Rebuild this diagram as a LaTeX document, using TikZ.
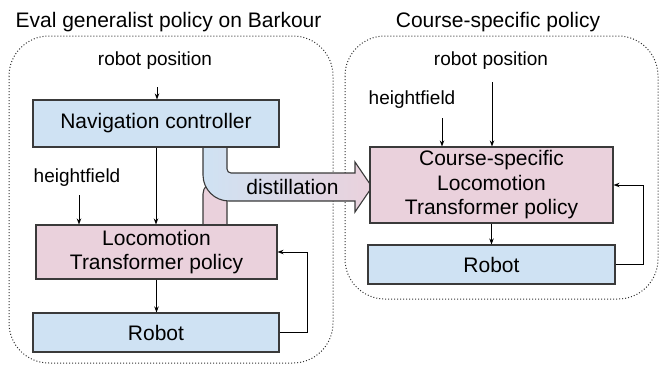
\documentclass[tikz,border=0pt]{standalone}
\usepackage{fontspec}
\setmainfont{Liberation Sans}
\usetikzlibrary{arrows.meta,calc}
\definecolor{boxblue}{HTML}{CFE2F3}
\definecolor{boxpink}{HTML}{EAD1DC}
\definecolor{edge}{HTML}{3A3A3A}
\definecolor{dotc}{HTML}{333333}
\tikzset{
  big/.style={font=\fontsize{21}{24.5}\selectfont},
  small/.style={font=\fontsize{19}{22}\selectfont},
  box/.style={draw=edge, line width=1.1pt, rectangle, inner sep=0pt, align=center, big},
  bluebox/.style={box, fill=boxblue},
  pinkbox/.style={box, fill=boxpink},
  flow/.style={draw=black, line width=0.8pt, -{Stealth[length=6pt,width=4.5pt]}},
  container/.style={draw=dotc, line width=1pt, dash pattern=on 1pt off 2pt, rounded corners=40pt},
}
\begin{document}
\begin{tikzpicture}[x=1pt,y=-1pt]
\useasboundingbox (0,0) rectangle (659,373);
% containers
\draw[container] (9,36) rectangle (333,363);
\draw[container] (345,36) rectangle (658,299);
\node[big] (t1) at (168.5,22) {Eval generalist policy on Barkour};
\node[big] (t2) at (498,22) {Course-specific policy};

% distillation arrow: pink stub first
\fill[boxpink, draw=edge, line width=1.1pt, rounded corners=12pt] (203,225) -- (203,182) -- (227,182) [sharp corners] -- (227,225);
\path[draw=edge, line width=1.1pt, left color=boxblue, right color=boxpink]
  (203,147) -- (203,175) arc[start angle=180, end angle=90, x radius=26pt, y radius=-26pt] -- (355,201) -- (355,212) -- (372,187) -- (355,162) -- (355,173) -- (231,173) arc[start angle=90, end angle=180, x radius=4pt, y radius=-4pt] -- (227,147) -- cycle;
\node[big] (dist) at (292.5,187) {distillation};

% left side
\node[small] (rp1) at (155,61) {robot position};
\node[small] (hf1) at (77,178) {heightfield};
\node[bluebox, minimum width=246pt, minimum height=47pt] (nav) at (156,123.5) {Navigation controller};
\node[pinkbox, minimum width=241pt, minimum height=54pt] (loco) at (156.5,252) {Locomotion\\Transformer policy};
\node[bluebox, minimum width=246pt, minimum height=39pt] (rob1) at (156,332.5) {Robot};
\coordinate (rp1s) at (157,87);
\coordinate (hf1s) at (79,195);
\coordinate (fb1) at (307,252);
\draw[flow] (rp1s) -- (rp1s |- nav.north);
\draw[flow] (hf1s) -- (hf1s |- loco.north);
\draw[flow] (nav.south) -- (nav.south |- loco.north);
\draw[flow] (loco.south) -- (loco.south |- rob1.north);
\draw[flow, line width=1pt] (rob1.east) -| (fb1) -- (loco.east);

% right side
\node[small] (rp2) at (491,61) {robot position};
\node[small] (hf2) at (412,100) {heightfield};
\node[pinkbox, minimum width=243pt, minimum height=76pt] (cs) at (491.5,185) {Course-specific\\Locomotion\\Transformer policy};
\node[bluebox, minimum width=247pt, minimum height=39pt] (rob2) at (491.5,264.5) {Robot};
\coordinate (rp2s) at (492,82);
\coordinate (hf2s) at (442,118);
\coordinate (fb2) at (643,185);
\draw[flow] (rp2s) -- (rp2s |- cs.north);
\draw[flow] (hf2s) -- (hf2s |- cs.north);
\draw[flow] (cs.south) -- (cs.south |- rob2.north);
\draw[flow, line width=1pt] (rob2.east) -| (fb2) -- (cs.east);
\end{tikzpicture}
\end{document}
